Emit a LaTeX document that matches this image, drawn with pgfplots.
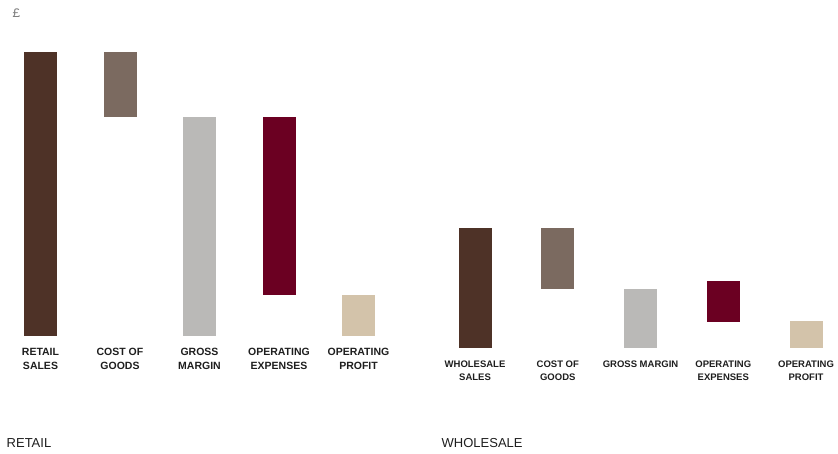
\documentclass[border=0pt]{standalone}
\usepackage{fontspec}
\setmainfont{Liberation Sans}
\newfontfamily\monof{Liberation Mono}
\usepackage{pgfplots}
\pgfplotsset{compat=1.18}
\definecolor{cRS}{HTML}{4E3227}
\definecolor{cCOG}{HTML}{7B6A60}
\definecolor{cGM}{HTML}{BAB9B7}
\definecolor{cOPX}{HTML}{6B0022}
\definecolor{cOP}{HTML}{D3C3AA}
\definecolor{cTxt}{HTML}{1E1E1E}
\pgfplotsset{
  wf/.style={
    scale only axis, ybar stacked, bar width=33pt,
    ymin=0, enlargelimits=false,
    axis y line=none, axis x line*=bottom,
    x axis line style={draw=none},
    xtick=data, major tick length=0pt,
    xticklabel style={align=center, text=cTxt, yshift=-9pt},
  }
}
\begin{document}
\begin{tikzpicture}[x=1pt,y=1pt]
\useasboundingbox (0,0) rectangle (838,454);
% RETAIL
\begin{axis}[wf,
  at={(0.75pt,118pt)}, anchor=south west,
  width=397.5pt, height=284pt,
  xmin=-0.5, xmax=4.5, ymax=284,
  xticklabel style={font=\fontsize{10.5}{13.6}\selectfont\bfseries},
  xticklabels={{RETAIL\\SALES},{COST OF\\GOODS},{GROSS\\MARGIN},{OPERATING\\EXPENSES},{OPERATING\\PROFIT}},
]
\addplot[draw=none, fill=none] coordinates {(0,0) (1,219) (2,0) (3,41) (4,0)};
\addplot[draw=none, fill=cRS]  coordinates {(0,284) (1,0) (2,0) (3,0) (4,0)};
\addplot[draw=none, fill=cCOG] coordinates {(0,0) (1,65) (2,0) (3,0) (4,0)};
\addplot[draw=none, fill=cGM]  coordinates {(0,0) (1,0) (2,219) (3,0) (4,0)};
\addplot[draw=none, fill=cOPX] coordinates {(0,0) (1,0) (2,0) (3,178) (4,0)};
\addplot[draw=none, fill=cOP]  coordinates {(0,0) (1,0) (2,0) (3,0) (4,41)};
\end{axis}
% WHOLESALE
\begin{axis}[wf,
  at={(450.2pt,106pt)}, anchor=south west,
  width=380.65pt, height=120pt,
  xmin=-0.3, xmax=4.3, ymax=120,
  xticklabel style={font=\fontsize{9.5}{13}\selectfont\bfseries},
  xticklabels={{WHOLESALE\\SALES},{COST OF\\GOODS},{GROSS MARGIN},{OPERATING\\EXPENSES},{OPERATING\\PROFIT}},
]
\addplot[draw=none, fill=none] coordinates {(0,0) (1,59) (2,0) (3,26) (4,0)};
\addplot[draw=none, fill=cRS]  coordinates {(0,120) (1,0) (2,0) (3,0) (4,0)};
\addplot[draw=none, fill=cCOG] coordinates {(0,0) (1,61) (2,0) (3,0) (4,0)};
\addplot[draw=none, fill=cGM]  coordinates {(0,0) (1,0) (2,59) (3,0) (4,0)};
\addplot[draw=none, fill=cOPX] coordinates {(0,0) (1,0) (2,0) (3,41) (4,0)};
\addplot[draw=none, fill=cOP]  coordinates {(0,0) (1,0) (2,0) (3,0) (4,27)};
\end{axis}
\node[anchor=base west, inner sep=0pt, font=\fontsize{13}{15}\selectfont, text=cTxt] at (6.5,6) {RETAIL};
\node[anchor=base west, inner sep=0pt, font=\fontsize{13}{15}\selectfont, text=cTxt] at (441.5,6) {WHOLESALE};
\node[anchor=base west, inner sep=0pt, font=\monof\fontsize{13}{15}\selectfont, text=gray] at (12.5,436) {£};
\end{tikzpicture}
\end{document}
